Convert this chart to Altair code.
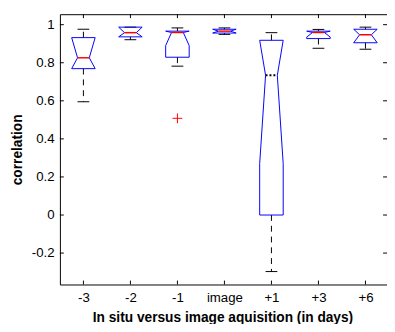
import altair as alt
import pandas as pd

# ---- data ----
categories = ["-3", "-2", "-1", "image", "+1", "+3", "+6"]
whisker_low = [0.595, 0.921, 0.782, 0.949, -0.297, 0.876, 0.871]
q1 = [0.769, 0.936, 0.829, 0.956, 0.0, 0.927, 0.905]
median = [0.826, 0.958, 0.959, 0.966, 0.734, 0.959, 0.947]
q3 = [0.932, 0.987, 0.966, 0.976, 0.918, 0.966, 0.976]
whisker_high = [0.976, 0.987, 0.983, 0.983, 0.958, 0.975, 0.987]
notch_low = [0.71, 0.93, 0.89, 0.95, 0.27, 0.935, 0.88]
notch_high = [0.94, 0.99, 1.03, 0.99, 1.20, 0.985, 1.02]
outlier_group = ["-1"]
outlier_value = [0.508]
y_ticks = [-0.2, 0, 0.2, 0.4, 0.6, 0.8, 1]
x_ticks = [1, 2, 3, 4, 5, 6, 7]

W, H = 334, 276
BOX_HALF = 0.25
NOTCH_HALF = 0.125
TICK = 4

# ---- tables built from the arrays ----
stats = pd.DataFrame({
    "cat": categories,
    "pos": list(range(1, len(categories) + 1)),
    "wlo": whisker_low, "q1": q1, "med": median, "q3": q3, "whi": whisker_high,
})
stats["left"] = stats["pos"] - NOTCH_HALF
stats["right"] = stats["pos"] + NOTCH_HALF

outline_rows = []
for i, c in enumerate(categories):
    p = i + 1
    nh = min(notch_high[i], q3[i])
    nl = max(notch_low[i], q1[i])
    pts = [
        (p - BOX_HALF, q3[i]), (p + BOX_HALF, q3[i]), (p + BOX_HALF, nh),
        (p + NOTCH_HALF, median[i]), (p + BOX_HALF, nl), (p + BOX_HALF, q1[i]),
        (p - BOX_HALF, q1[i]), (p - BOX_HALF, nl), (p - NOTCH_HALF, median[i]),
        (p - BOX_HALF, nh), (p - BOX_HALF, q3[i]),
    ]
    for k, (xx, yy) in enumerate(pts):
        outline_rows.append({"cat": c, "k": k, "x": xx, "y": yy})
outline = pd.DataFrame(outline_rows)

outliers = pd.DataFrame({
    "pos": [categories.index(g) + 1 for g in outlier_group],
    "val": outlier_value,
})

xscale = alt.Scale(domain=[0.5, 7.5 - 2 / 48], nice=False, zero=False)
yscale = alt.Scale(domain=[-0.365, 1.055], nice=False, zero=False)

label_arr = "[" + ",".join("'" + c + "'" for c in categories) + "]"

x_axis = alt.Axis(
    values=x_ticks, labelExpr=label_arr + "[datum.value-1]",
    title="In situ versus image aquisition (in days)",
    ticks=False, tickSize=0, domain=False, grid=False,
    labelPadding=17, labelBaseline="alphabetic", labelFlush=False,
    labelOverlap=False, labelBound=False,
    titleX=166, titleY=38, titleBaseline="alphabetic", titleAnchor="middle",
)
y_axis = alt.Axis(
    values=y_ticks, labelExpr="'' + datum.value",
    title="correlation",
    ticks=False, tickSize=0, domain=False, grid=False,
    labelPadding=6, labelFlush=False, labelOverlap=False, labelBound=False,
    titleX=-39, titleY=138, titleAngle=270, titleBaseline="alphabetic",
    titleAlign="center",
)

base_axes = alt.Chart(stats).mark_point(opacity=0).encode(
    x=alt.X("pos:Q", scale=xscale, axis=x_axis),
    y=alt.Y("med:Q", scale=yscale, axis=y_axis),
)

box = alt.Chart(outline).mark_line(color="#0000FF", strokeWidth=1).encode(
    x=alt.X("x:Q", scale=xscale),
    y=alt.Y("y:Q", scale=yscale),
    detail="cat:N",
    order="k:Q",
)

dash = [6, 5]
wh_up = alt.Chart(stats).mark_rule(color="black", strokeDash=dash, strokeWidth=1).encode(
    x=alt.X("pos:Q", scale=xscale), y=alt.Y("q3:Q", scale=yscale), y2="whi:Q")
wh_lo = alt.Chart(stats).mark_rule(color="black", strokeDash=dash, strokeWidth=1).encode(
    x=alt.X("pos:Q", scale=xscale), y=alt.Y("q1:Q", scale=yscale), y2="wlo:Q")
cap_up = alt.Chart(stats).mark_rule(color="black", strokeWidth=1).encode(
    x=alt.X("left:Q", scale=xscale), x2="right:Q", y=alt.Y("whi:Q", scale=yscale))
cap_lo = alt.Chart(stats).mark_rule(color="black", strokeWidth=1).encode(
    x=alt.X("left:Q", scale=xscale), x2="right:Q", y=alt.Y("wlo:Q", scale=yscale))

med_red = alt.Chart(stats).transform_filter("datum.cat != '+1'").mark_rule(
    color="#FF0000", strokeWidth=1.5).encode(
    x=alt.X("left:Q", scale=xscale), x2="right:Q", y=alt.Y("med:Q", scale=yscale))
med_dot = alt.Chart(stats).transform_filter("datum.cat == '+1'").mark_rule(
    color="black", strokeWidth=2, strokeDash=[2, 2]).encode(
    x=alt.X("left:Q", scale=xscale), x2="right:Q", y=alt.Y("med:Q", scale=yscale))

out = alt.Chart(outliers).mark_point(
    shape="M-1,0L1,0M0,-1L0,1", size=100, color="#FF0000", filled=False,
    strokeWidth=1, opacity=1).encode(
    x=alt.X("pos:Q", scale=xscale), y=alt.Y("val:Q", scale=yscale))

ytick_df = pd.DataFrame({"v": y_ticks})
xtick_df = pd.DataFrame({"v": x_ticks})
yt_left = alt.Chart(ytick_df).mark_rule(color="black").encode(
    y=alt.Y("v:Q", scale=yscale), x=alt.value(0), x2=alt.value(TICK))
yt_right = alt.Chart(ytick_df).mark_rule(color="black").encode(
    y=alt.Y("v:Q", scale=yscale), x=alt.value(W - TICK), x2=alt.value(W))
xt_bot = alt.Chart(xtick_df).mark_rule(color="black").encode(
    x=alt.X("v:Q", scale=xscale), y=alt.value(H - TICK), y2=alt.value(H))
xt_top = alt.Chart(xtick_df).mark_rule(color="black").encode(
    x=alt.X("v:Q", scale=xscale), y=alt.value(0), y2=alt.value(TICK))

chart = alt.layer(
    base_axes, yt_left, yt_right, xt_bot, xt_top,
    wh_up, wh_lo, cap_up, cap_lo, box, med_red, med_dot, out,
).properties(
    width=W, height=H,
    padding={"left": 53, "top": 3, "right": 0, "bottom": 37},
    autosize=alt.AutoSizeParams(type="none"),
    background="white",
).configure_view(
    stroke="black", strokeWidth=1,
).configure_axis(
    labelFont="Liberation Sans", labelFontSize=13.5, labelColor="black",
    titleFont="Liberation Sans", titleFontSize=14, titleFontWeight="bold",
    titleColor="black",
)

chart.save("out.html", embed_options={"renderer": "svg", "actions": False})
